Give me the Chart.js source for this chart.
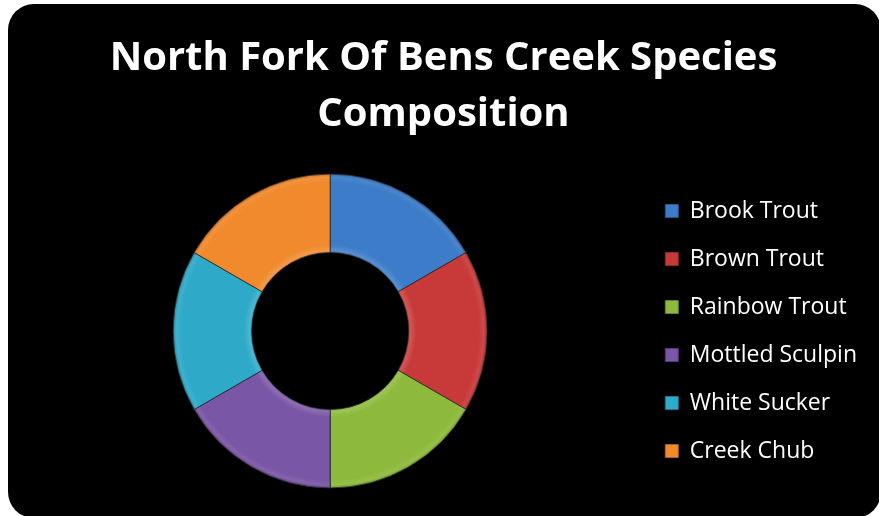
<!DOCTYPE html>
<html lang="en">
<head>
    <meta charset="UTF-8">
    <title>North Fork Of Bens Creek Species Composition</title>
    <script src="https://cdn.jsdelivr.net/npm/chart.js"></script>
    <style>
        html, body {
            margin: 0;
            padding: 0;
            background: #fff;
            overflow: hidden;
        }

        #panel {
            position: absolute;
            left: 8px;
            top: 4px;
            width: 873px;
            height: 514px;
            background: #000;
            border-radius: 26px;
        }

        #wrap {
            position: absolute;
            left: 0;
            top: 0;
            width: 879px;
            height: 516px;
        }
    </style>
</head>
<body>
    <div id="panel"></div>
    <div id="wrap">
        <canvas id="donut"></canvas>
    </div>

    <script>
        // dados
        const species = ['Brook Trout', 'Brown Trout', 'Rainbow Trout', 'Mottled Sculpin', 'White Sucker', 'Creek Chub'];
        const composition = [1, 1, 1, 1, 1, 1];
        const sliceColors = ['#3c7cc8', '#c83a3a', '#8dba3c', '#7a56a6', '#2eaac8', '#f08a2c'];
        const titleLines = ['North Fork Of Bens Creek Species', 'Composition'];

        const OUTER = 157;
        const INNER = 78.5;

        function shade(hex, f) {
            const n = parseInt(hex.slice(1), 16);
            let r = (n >> 16) & 255, g = (n >> 8) & 255, b = n & 255;
            if (f < 0) {
                r = r * (1 + f); g = g * (1 + f); b = b * (1 + f);
            } else {
                r = r + (255 - r) * f; g = g + (255 - g) * f; b = b + (255 - b) * f;
            }
            return 'rgb(' + Math.round(r) + ',' + Math.round(g) + ',' + Math.round(b) + ')';
        }

        // bevel look: thin light rim inside, slightly darker edges
        function bevel(context) {
            const chart = context.chart;
            const area = chart.chartArea;
            const base = sliceColors[context.dataIndex];
            if (!area) return base;
            const cx = (area.left + area.right) / 2;
            const cy = (area.top + area.bottom) / 2;
            const g = chart.ctx.createRadialGradient(cx, cy, INNER - 2, cx, cy, OUTER);
            g.addColorStop(0, shade(base, -0.08));
            g.addColorStop(0.05, shade(base, 0.14));
            g.addColorStop(0.12, base);
            g.addColorStop(0.9, base);
            g.addColorStop(0.96, shade(base, 0.08));
            g.addColorStop(1, shade(base, -0.15));
            return g;
        }

        const ctx = document.getElementById('donut').getContext('2d');
        const chart = new Chart(ctx, {
            type: 'doughnut',
            data: {
                labels: species,
                datasets: [{
                    data: composition,
                    backgroundColor: bevel,
                    borderColor: 'rgba(40,40,40,0.8)',
                    borderWidth: 1
                }]
            },
            options: {
                responsive: true,
                maintainAspectRatio: false,
                animation: false,
                radius: OUTER,
                cutout: '50%',
                layout: {
                    padding: { left: 20, right: 12, bottom: 0 }
                },
                plugins: {
                    tooltip: { enabled: false },
                    title: {
                        display: true,
                        text: titleLines,
                        color: '#ffffff',
                        font: { family: 'Open Sans', weight: 'bold', size: 40, lineHeight: 1.4 },
                        padding: { top: 31, bottom: 3 }
                    },
                    legend: {
                        position: 'right',
                        fullSize: false,
                        labels: {
                            color: '#ffffff',
                            font: { family: 'Open Sans', size: 23 },
                            boxWidth: 13,
                            boxHeight: 13,
                            padding: 25,
                            generateLabels: function (c) {
                                return species.map((s, i) => ({
                                    text: s,
                                    fillStyle: sliceColors[i],
                                    strokeStyle: shade(sliceColors[i], -0.3),
                                    lineWidth: 1,
                                    fontColor: '#ffffff',
                                    hidden: false,
                                    index: i
                                }));
                            }
                        }
                    }
                }
            }
        });
    </script>
</body>
</html>
